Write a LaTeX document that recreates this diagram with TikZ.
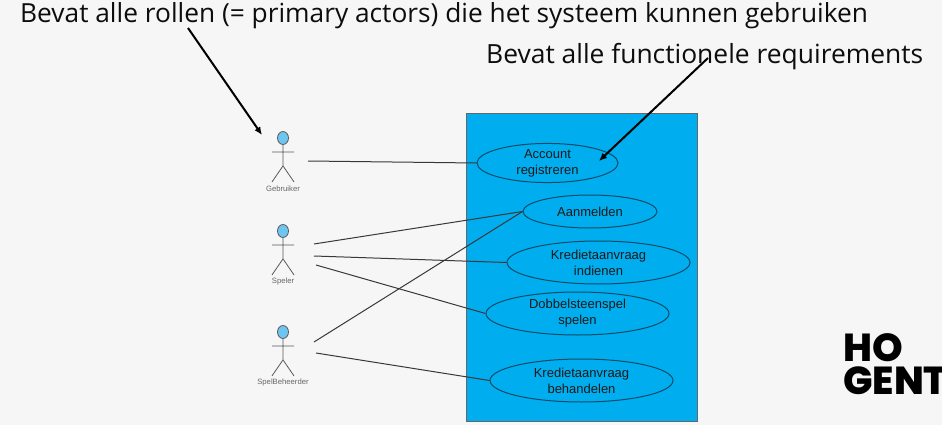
\documentclass[tikz,border=0pt]{standalone}
\usepackage{fontspec}
\setmainfont{Open Sans}
\newfontfamily\diagramfont{Liberation Sans}
\newfontfamily\logofont{Poppins}[BoldFont={Poppins ExtraBold}]
\usetikzlibrary{shapes.geometric,arrows.meta}
\definecolor{pagegrey}{HTML}{F6F6F6}
\definecolor{systemblue}{HTML}{00AEEF}
\definecolor{headblue}{HTML}{6EC6F0}
\definecolor{actorgrey}{HTML}{5A5A5A}
\definecolor{edgeteal}{HTML}{0B4A66}
\begin{document}
\begin{tikzpicture}[x=1pt,y=-1pt,
  note/.style={inner sep=0pt,text=black!95},
  usecase/.style={draw=edgeteal,ellipse,inner sep=0pt,line width=1pt,
    font=\diagramfont\fontsize{13}{16}\selectfont,text=black!90,align=center},
  head/.style={draw=actorgrey,fill=headblue,ellipse,minimum width=11pt,minimum height=13pt,inner sep=0pt,line width=0.8pt},
  actorname/.style={font=\diagramfont\fontsize{7.7}{9}\selectfont,text=black!60,inner sep=0pt},
  assoc/.style={draw=black!78,line width=1pt},
  pointer/.style={draw=black,line width=2pt,-{Latex[length=8pt,width=7pt]}}]
  \useasboundingbox[fill=pagegrey] (0,0) rectangle (942,425);
  \node[note,anchor=west,font=\fontsize{26.3}{30}\selectfont] (rollen) at (20,15.5) {Bevat alle rollen (= primary actors) die het systeem kunnen gebruiken};
  \node[note,anchor=west,font=\fontsize{26.4}{30}\selectfont] (functioneel) at (486,57) {Bevat alle functionele requirements};
  \node[draw=black!60,fill=systemblue,minimum width=230.5pt,minimum height=308pt,inner sep=0pt,line width=0.8pt] (systeem) at (581.75,267) {};
  \node[usecase,minimum width=141pt,minimum height=33pt] (account) at (547.5,163) {Account\\registreren};
  \node[usecase,minimum width=134pt,minimum height=33pt] (aanmelden) at (590,211.5) {Aanmelden};
  \node[usecase,minimum width=183pt,minimum height=43pt] (indienen) at (598.5,262.5) {Kredietaanvraag\\indienen};
  \node[usecase,minimum width=183pt,minimum height=43pt] (spelen) at (577.5,313.5) {Dobbelsteenspel\\spelen};
  \node[usecase,minimum width=183pt,minimum height=43pt] (behandelen) at (581.5,380.5) {Kredietaanvraag\\behandelen};
  % actors
  \foreach \id/\lab/\y in {gebruiker/Gebruiker/138,speler/Speler/231,beheerder/SpelBeheerder/332}{
    \node[head] (\id) at (283,\y) {};
    \node[actorname] (\id-name) at (283,\y+50.5) {\lab};
    \draw[draw=actorgrey,line width=0.8pt] (\id.south) -- ++(0,21) coordinate (\id-hip)
      -- ++(-11,16) (\id-hip) -- ++(11,16)
      (272,\y+14) -- (294,\y+14);
  }
  \coordinate (gebruiker-out) at (308,161);
  \coordinate (speler-a) at (314,244);
  \coordinate (speler-b) at (314,256);
  \coordinate (speler-c) at (316,265);
  \coordinate (beheerder-a) at (314,342);
  \coordinate (beheerder-b) at (316,353);
  \draw[assoc] (gebruiker-out) -- (account.west);
  \draw[assoc] (speler-a) -- (aanmelden.west);
  \draw[assoc] (speler-b) -- (indienen.west);
  \draw[assoc] (speler-c) -- (spelen.west);
  \draw[assoc] (beheerder-a) -- (aanmelden.west);
  \draw[assoc] (beheerder-b) -- (behandelen.west);
  % pointers from the notes
  \coordinate (rollen-start) at (188,28);
  \coordinate (rollen-end) at (262,135);
  \coordinate (functioneel-start) at (708,58);
  \coordinate (functioneel-end) at (599,161);
  \draw[pointer] (rollen-start) -- (rollen-end);
  \draw[pointer] (functioneel-start) -- (functioneel-end);
  \node[anchor=west,inner sep=0pt,font=\logofont\bfseries\fontsize{39}{33}\selectfont,align=left] (logo) at (843,364.5) {HO\\GENT};
\end{tikzpicture}
\end{document}
